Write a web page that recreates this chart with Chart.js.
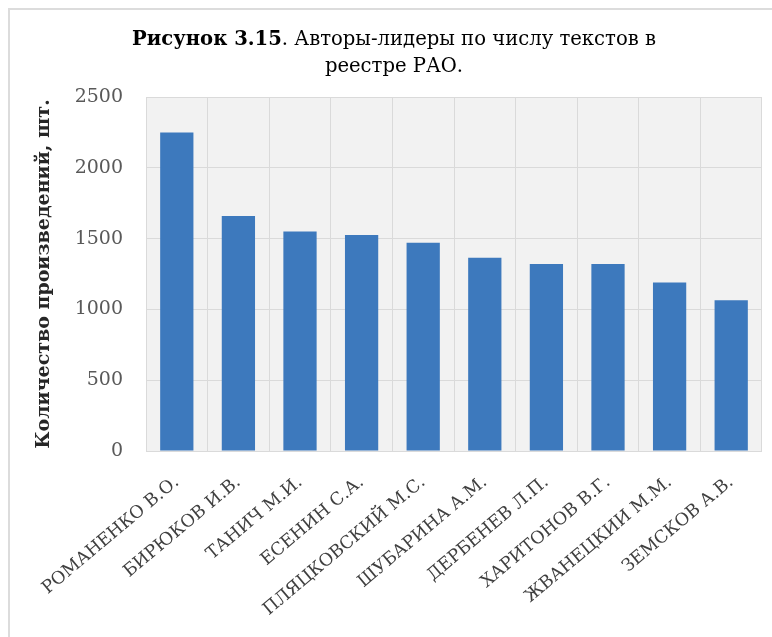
<!DOCTYPE html>
<html><head><meta charset="utf-8">
<script src="https://cdn.jsdelivr.net/npm/chart.js@4/dist/chart.umd.min.js"></script>
<style>
html,body{margin:0;padding:0;background:#fff;}
#wrap{position:relative;width:772px;height:637px;overflow:hidden;}
#frame{position:absolute;left:8px;top:8px;width:800px;height:700px;border-top:2px solid #dcdcdc;border-left:2px solid #dcdcdc;}
#title{position:absolute;left:0;top:25px;width:788px;text-align:center;font-family:"DejaVu Serif",serif;font-size:19.6px;line-height:27px;color:#000;}
canvas{position:absolute;left:0;top:0;}
</style></head>
<body>
<div id="wrap">
<div id="frame"></div>
<canvas id="c" width="772" height="637"></canvas>
<div id="title"><b>Рисунок 3.15</b>. Авторы-лидеры по числу текстов в<br>реестре РАО.</div>
</div>
<script>
const categories = ["РОМАНЕНКО В.О.","БИРЮКОВ И.В.","ТАНИЧ М.И.","ЕСЕНИН С.А.","ПЛЯЦКОВСКИЙ М.С.","ШУБАРИНА А.М.","ДЕРБЕНЕВ Л.П.","ХАРИТОНОВ В.Г.","ЖВАНЕЦКИИ М.М.","ЗЕМСКОВ А.В."];
const values = [2250, 1660, 1550, 1525, 1470, 1365, 1320, 1320, 1190, 1065];
const yTicks = [0, 500, 1000, 1500, 2000, 2500];
const yTitle = "Количество произведений, шт.";
const FONT = '"DejaVu Serif",serif';

const bgPlugin = {
  id: 'bg',
  beforeDraw(chart){
    const {ctx, chartArea:a} = chart;
    ctx.save(); ctx.fillStyle = '#f2f2f2';
    ctx.fillRect(a.left, a.top, a.right-a.left, a.bottom-a.top);
    ctx.restore();
  }
};

new Chart(document.getElementById('c'), {
  type: 'bar',
  data: { labels: categories, datasets: [{ data: values, backgroundColor: '#3d79bd', borderWidth: 0, categoryPercentage: 0.54, barPercentage: 1 }] },
  options: {
    responsive: false, animation: false,
    layout: { padding: { top: 97, right: 10, left: 0, bottom: 0 } },
    plugins: { legend: { display: false }, tooltip: { enabled: false } },
    scales: {
      x: {
        afterFit(axis){ axis.height = 186; },
        grid: { offset: true, color: '#dadada', drawTicks: false },
        border: { display: false },
        ticks: { autoSkip: false, maxRotation: 40, minRotation: 40, color: '#404040', font: { family: FONT, size: 17.5 }, padding: 21 }
      },
      y: {
        min: 0, max: 2500,
        afterBuildTicks(axis){ axis.ticks = yTicks.map(v => ({value: v})); },
        afterFit(axis){ axis.width = 146; },
        grid: { color: '#dadada', drawTicks: false },
        border: { display: false },
        ticks: { color: '#595959', font: { family: FONT, size: 19 }, padding: 23, callback: v => String(v) },
        title: { display: true, text: yTitle, color: '#262626', font: { family: FONT, size: 19, weight: 'bold' }, padding: { top: 33, bottom: 0 } }
      }
    }
  },
  plugins: [bgPlugin]
});
</script>
</body></html>
